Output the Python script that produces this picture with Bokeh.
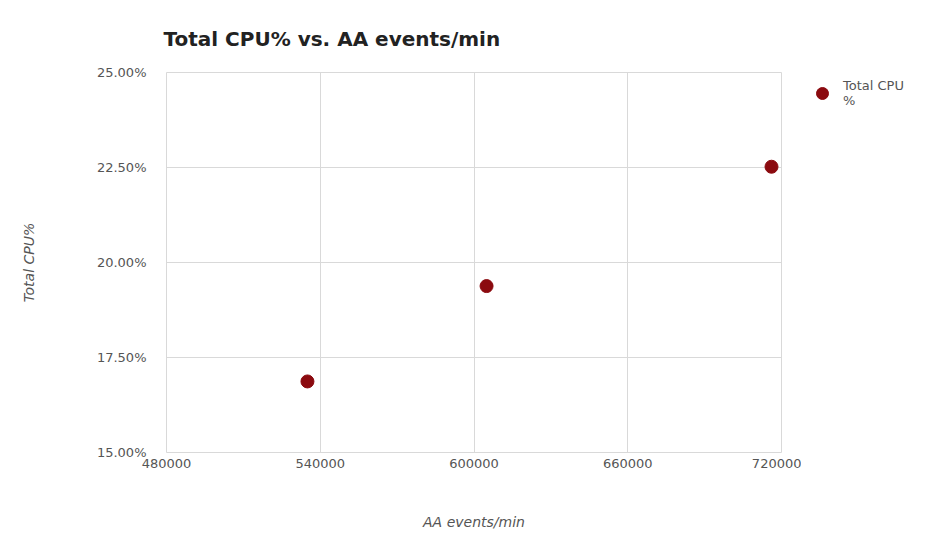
from bokeh.plotting import figure
from bokeh.layouts import row
from bokeh.models import FixedTicker, NumeralTickFormatter, Range1d, Legend, LegendItem
from bokeh.embed import file_html
from bokeh.resources import INLINE

# data
aa_events = [535000, 604900, 716100]
total_cpu = [0.1687, 0.1938, 0.2252]
x_ticks = [480000, 540000, 600000, 660000, 720000]
y_ticks = [0.15, 0.175, 0.20, 0.225, 0.25]
series_name = "Total CPU\n%"
marker_color = "#8b0a0f"

FONT = "DejaVu Sans"
W, H = 801, 538
LW = 144
p = figure(width=W, height=H, output_backend="svg", toolbar_location=None,
           x_range=Range1d(480000, 720000), y_range=Range1d(0.15, 0.25),
           min_border_left=166, min_border_top=72, min_border_right=W - 781,
           min_border_bottom=H - 452)
p.title.text = "Total CPU% vs. AA events/min"
p.title.text_font = FONT
p.title.text_font_size = "20px"
p.title.text_font_style = "bold"
p.title.text_color = "#222222"
p.title.offset = -3
p.title.standoff = 44

p.scatter(aa_events, total_cpu, size=13, color=marker_color, line_color=marker_color)

for ax in (p.xaxis, p.yaxis):
    ax.axis_line_color = None
    ax.major_tick_line_color = None
    ax.minor_tick_line_color = None
    ax.major_label_text_font = FONT
    ax.major_label_text_font_size = "13px"
    ax.major_label_text_color = "#555555"
    ax.axis_label_text_font = FONT
    ax.axis_label_text_font_size = "14px"
    ax.axis_label_text_font_style = "italic"
    ax.axis_label_text_color = "#555555"

p.xaxis.ticker = FixedTicker(ticks=x_ticks)
p.xaxis.formatter = NumeralTickFormatter(format="0")
p.xaxis.major_label_standoff = 0
p.xaxis.axis_label = "AA events/min"
p.xaxis.axis_label_standoff = 43

p.yaxis.ticker = FixedTicker(ticks=y_ticks)
p.yaxis.formatter = NumeralTickFormatter(format="0.00%")
p.yaxis.major_label_standoff = 14
p.yaxis.axis_label = "Total CPU%"
p.yaxis.axis_label_standoff = 57

p.xgrid.ticker = FixedTicker(ticks=x_ticks)
p.ygrid.ticker = FixedTicker(ticks=y_ticks)
p.grid.grid_line_color = "#d9d9d9"
p.outline_line_color = "#d9d9d9"
p.background_fill_color = "white"
p.border_fill_color = "white"

# legend panel to the right of the plot
lp = figure(width=LW, height=H, output_backend="svg", toolbar_location=None,
            x_axis_type=None, y_axis_type=None,
            x_range=Range1d(0, 1), y_range=Range1d(0, 1),
            min_border_left=0, min_border_right=0, min_border_top=59, min_border_bottom=0)
lp.outline_line_color = None
lp.background_fill_color = "white"
lp.border_fill_color = "white"
lr = lp.scatter(aa_events, total_cpu, size=13, color=marker_color, line_color=marker_color,
                visible=False)
legend = Legend(items=[LegendItem(label=series_name, renderers=[lr])],
                location="top_left", margin=6, border_line_color=None,
                background_fill_alpha=0, inactive_fill_alpha=0,
                label_text_font=FONT,
                label_text_font_size="13px", label_text_color="#555555",
                glyph_width=30, glyph_height=30, label_standoff=6,
                padding=2, spacing=0)
lp.add_layout(legend)

layout = row(p, lp)
open("out.html", "w").write(file_html(layout, INLINE))
